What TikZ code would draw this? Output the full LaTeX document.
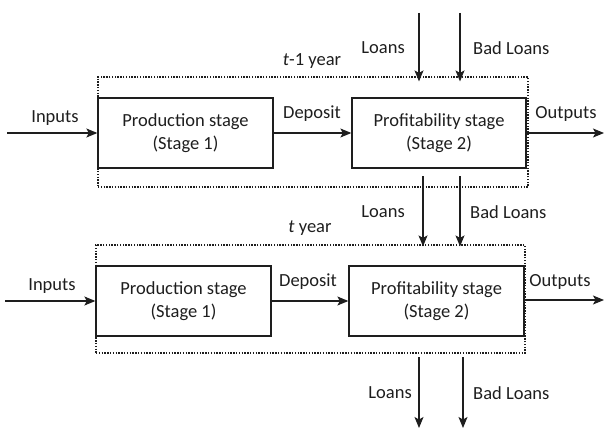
\documentclass[tikz,border=0pt]{standalone}
\usepackage{fontspec}
\setmainfont{Carlito}
\usetikzlibrary{arrows.meta}
\definecolor{ink}{RGB}{30,30,30}
\begin{document}
\begin{tikzpicture}[x=1pt,y=-1pt,
  every node/.style={font=\fontsize{18.5}{23}\selectfont, text=ink},
  stagebox/.style={draw=ink, line width=1.3pt, rectangle, inner sep=0pt, align=center},
  yearbox/.style={draw=ink, line width=1.2pt, dash pattern=on 1.4pt off 1.4pt, rectangle, inner sep=0pt},
  flow/.style={draw=ink, line width=1.2pt, -{Stealth[length=11pt,width=9pt,inset=2.5pt]}},
  lbl/.style={inner sep=0pt}
]
\useasboundingbox (0,0) rectangle (605,428);

% ---------- t-1 year ----------
\node[yearbox, minimum width=430pt, minimum height=110pt] (y1) at (313,132) {};
\node[stagebox, minimum width=175pt, minimum height=70pt] (p1) at (185.5,133) {Production stage\\(Stage 1)};
\node[stagebox, minimum width=174pt, minimum height=70pt] (q1) at (439,133) {Profitability stage\\(Stage 2)};
\node[lbl] (t1) at (312,61) {\textit{t}-1 year};

\coordinate (in1) at (7,133);
\coordinate (out1) at (604,133);
\draw[flow] (in1) -- (p1.west);
\draw[flow] (p1.east) -- (q1.west);
\draw[flow] (q1.east) -- (out1);
\node[lbl] (inl1) at (55,118) {Inputs};
\node[lbl] (dep1) at (312,114) {Deposit};
\node[lbl] (outl1) at (566,114) {Outputs};

\coordinate (l1s) at (419,13);
\coordinate (b1s) at (460,13);
\draw[flow, shorten >=-5pt] (l1s) -- (l1s |- y1.north);
\draw[flow, shorten >=-5pt] (b1s) -- (b1s |- y1.north);
\node[lbl, anchor=east] (ll1) at (405,48) {Loans};
\node[lbl, anchor=west] (bl1) at (473,48) {Bad Loans};

% ---------- t year ----------
\node[yearbox, minimum width=429pt, minimum height=108pt] (y2) at (310.5,299) {};
\node[stagebox, minimum width=175pt, minimum height=70pt] (p2) at (183.5,301) {Production stage\\(Stage 1)};
\node[stagebox, minimum width=175pt, minimum height=70pt] (q2) at (436.5,301) {Profitability stage\\(Stage 2)};
\node[lbl] (t2) at (310,228) {\textit{t} year};

\coordinate (l2s) at (423,176);
\coordinate (b2s) at (460,176);
\draw[flow, shorten >=-2pt] (l2s) -- (l2s |- y2.north);
\draw[flow, shorten >=-2pt] (b2s) -- (b2s |- y2.north);
\node[lbl, anchor=east] (ll2) at (405,212) {Loans};
\node[lbl, anchor=west] (bl2) at (470,212) {Bad Loans};

\coordinate (in2) at (5,301);
\coordinate (out2) at (604,300);
\draw[flow] (in2) -- (p2.west);
\draw[flow] (p2.east) -- (q2.west);
\draw[flow] (q2.east |- out2) -- (out2);
\node[lbl] (inl2) at (52,286) {Inputs};
\node[lbl] (dep2) at (308,282) {Deposit};
\node[lbl] (outl2) at (560,282) {Outputs};

\coordinate (l3s) at (419,357);
\coordinate (l3e) at (419,428);
\coordinate (b3s) at (463,357);
\coordinate (b3e) at (463,428);
\draw[flow] (l3s) -- (l3e);
\draw[flow] (b3s) -- (b3e);
\node[lbl, anchor=east] (ll3) at (412,393) {Loans};
\node[lbl, anchor=west] (bl3) at (473,393) {Bad Loans};
\end{tikzpicture}
\end{document}
